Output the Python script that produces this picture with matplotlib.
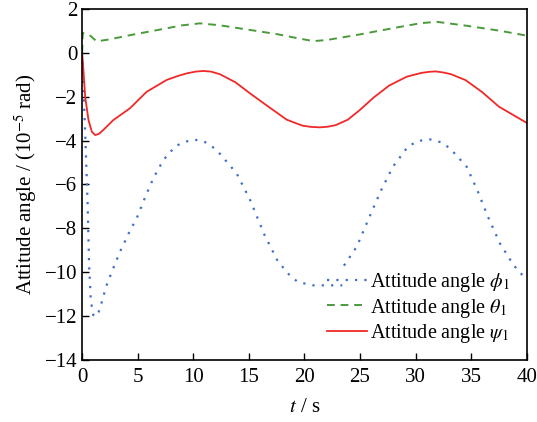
import numpy as np
import matplotlib
matplotlib.use('Agg')
import matplotlib.pyplot as plt

plt.rcParams['font.family'] = ['Liberation Serif', 'DejaVu Serif']
plt.rcParams['mathtext.fontset'] = 'stix'
plt.rcParams['font.size'] = 15

# 姿态角 phi_1 (蓝色点线), 在 t~23.5 s 处有跳变
t_phi = [0, 0.27, 0.48, 0.63, 0.78, 1.0, 1.37, 1.77, 2.15, 2.67, 3.4, 4.26, 4.9,
         5.63, 6.4, 7.3, 8.36, 9.0, 9.9, 10.5, 11.2, 12.1, 13.9, 15.1, 16.4,
         17.6, 18.6, 19.4, 20.8, 23.4, np.nan, 23.55, 24.7, 26.0, 26.9, 27.95,
         29.3, 30.2, 31.3, 32.3, 33.1, 34.6, 35.6, 36.5, 37.6, 38.8, 40]
phi = [0, -3.66, -6.7, -9.75, -11.3, -11.95, -12.0, -11.35, -10.66, -9.98, -9.07,
       -8.15, -7.55, -6.63, -5.72, -4.89, -4.28, -4.1, -3.97, -3.98, -4.1,
       -4.43, -5.5, -6.7, -8.3, -9.5, -10.1, -10.45, -10.6, -10.6, np.nan,
       -9.7, -8.84, -7.3, -6.26, -5.2, -4.28, -4.02, -3.95, -4.08, -4.36,
       -5.2, -6.33, -7.47, -8.7, -9.67, -10.36]

# 姿态角 theta_1 (绿色虚线)
t_theta = [0, 0.05, 0.57, 1.3, 2.35, 4.7, 7.15, 9.0, 10.6, 12.4, 14.2, 17.5,
           19.5, 20.8, 22.0, 24.7, 28.6, 30.5, 31.9, 34.6, 37.6, 40]
theta = [0, 0.9, 0.85, 0.52, 0.6, 0.84, 1.07, 1.25, 1.34, 1.25, 1.11, 0.85,
         0.65, 0.53, 0.58, 0.81, 1.18, 1.35, 1.41, 1.23, 1.0, 0.78]

# 姿态角 psi_1 (红色实线)
t_psi = [0, 0.1, 0.27, 0.57, 0.87, 1.17, 1.5, 1.9, 2.8, 4.3, 5.8, 7.6, 8.6,
         9.4, 10.2, 10.9, 11.6, 12.4, 13.8, 15.1, 16.6, 18.4, 19.8, 20.6, 21.4,
         22.1, 22.8, 23.9, 25.0, 26.2, 27.6, 29.2, 30.5, 31.2, 31.8, 32.5,
         33.2, 34.5, 36.0, 37.5, 39.3, 40]
psi = [0, -0.7, -2.0, -3.07, -3.6, -3.75, -3.7, -3.52, -3.07, -2.53, -1.78,
       -1.24, -1.06, -0.94, -0.86, -0.83, -0.86, -0.98, -1.35, -1.85, -2.4,
       -3.05, -3.32, -3.38, -3.4, -3.37, -3.3, -3.05, -2.6, -2.05, -1.5,
       -1.09, -0.92, -0.87, -0.85, -0.9, -0.98, -1.25, -1.8, -2.46, -2.99,
       -3.2]

fig = plt.figure(figsize=(5.37, 4.22), dpi=100)
ax = fig.add_axes([0.153, 0.147, 0.828, 0.832])

ax.plot(t_phi, phi, color='#3f6fc6', linestyle=(0, (1, 3.2)), linewidth=1.6,
        label=r'Attitude angle $\phi_1$')
ax.plot(t_theta, theta, color='#4a9a3c', linestyle=(0, (4, 3)), linewidth=1.4,
        label=r'Attitude angle $\theta_1$')
ax.plot(t_psi, psi, color='#f02828', linestyle='-', linewidth=1.3,
        label=r'Attitude angle $\psi_1$')

ax.set_xlim(0, 40)
ax.set_ylim(-14, 2)
ax.set_xticks(np.arange(0, 41, 5))
ax.set_yticks(np.arange(-14, 3, 2))
ax.tick_params(direction='in', length=5, width=1, top=False, right=False)
ax.tick_params(axis='x', pad=6)
for s in ax.spines.values():
    s.set_linewidth(1.2)

ax.set_xlabel(r'$t$ / s', labelpad=8)
ax.set_ylabel(r'Attitude angle / (10$^{-5}$ rad)')

ax.legend(loc='center left', bbox_to_anchor=(0.55, 0.148), frameon=False,
          borderpad=0, borderaxespad=0, handlelength=2.0, handletextpad=0.15,
          labelspacing=0.12, fontsize=14.5)

fig.savefig('out.png', dpi=100)
